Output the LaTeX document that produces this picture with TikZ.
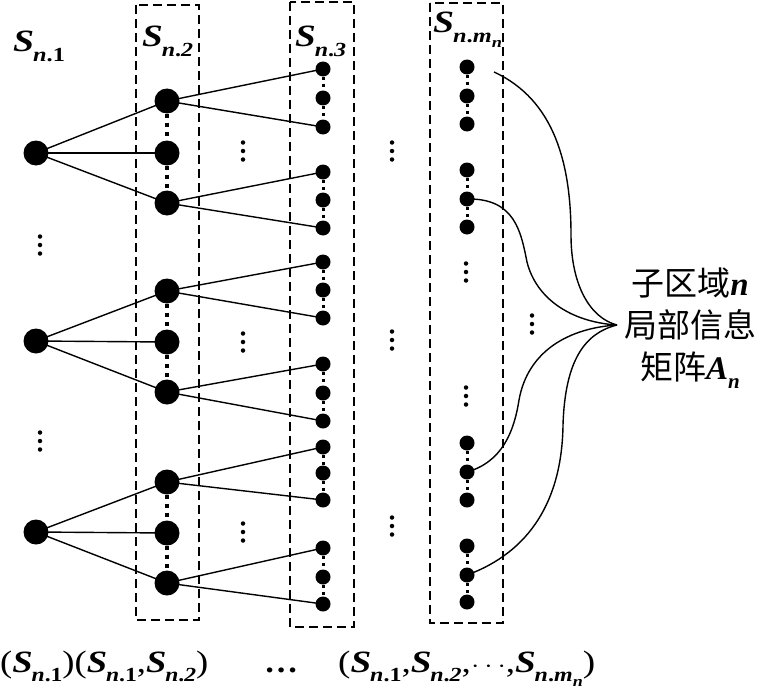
\documentclass[tikz,border=0pt]{standalone}
\usepackage{fontspec}
\setmainfont{Liberation Serif}
\newfontfamily\cjk{Noto Sans CJK SC}
\newcommand\Lat[1]{{\rmfamily\bfseries\itshape #1}}
\newcommand\SB{\textbf{\textit{S}}}
\newcommand\Ssub[1]{\SB\kern-0.03em\raisebox{-0.3em}{\fontsize{20}{20}\selectfont\textbf{\textit{n}}\textbf{.#1}}}
\newcommand\Smn{\Ssub{\textit{m}\raisebox{-0.25em}{\fontsize{15}{15}\selectfont\textbf{\textit{n}}}}}
\begin{document}
\begin{tikzpicture}[x=1pt,y=-1pt,
  big/.style={circle,fill=black,inner sep=0pt,minimum size=25pt},
  small/.style={circle,fill=black,inner sep=0pt,minimum size=15pt},
  edge/.style={line width=1.4pt},
  boxline/.style={line width=1.5pt,dash pattern=on 9pt off 5pt},
  bigdots/.style={line width=4pt,dash pattern=on 4pt off 5pt},
  smalldots/.style={line width=3pt,dash pattern=on 3pt off 4pt},
  vdot/.style={circle,fill=black,inner sep=0pt,minimum size=4.5pt},
  curve/.style={line width=1.4pt},
  lab/.style={font=\fontsize{31}{33}\selectfont,inner sep=0pt,anchor=base west},
  cjkl/.style={font=\fontsize{33}{42}\selectfont\cjk,inner sep=0pt,anchor=base}
]
\useasboundingbox (0,0) rectangle (759,690);
% dashed boxes
\draw[boxline] (136,5) rectangle (199,620);
\draw[boxline] (290,2) rectangle (354,627);
\draw[boxline] (430,3) rectangle (503,623);
% column 1
\node[big] (a1) at (36,153) {};
\node[big] (a2) at (36,341) {};
\node[big] (a3) at (36,532) {};
% column 2
\foreach \n/\y in {1/101,2/153,3/203,4/291,5/342,6/392,7/482,8/533,9/583}
  \node[big] (b\n) at (167,\y) {};
% column 3
\foreach \n/\y in {1/69,2/98,3/127,4/172,5/200,6/228,7/262,8/290,9/318,10/364,11/393,12/421,13/447,14/473,15/500,16/548,17/577,18/604}
  \node[small] (c\n) at (323,\y) {};
% column m_n
\foreach \n/\y in {1/67,2/96,3/124,4/170,5/199,6/227,7/443,8/472,9/500,10/546,11/575,12/602}
  \node[small] (d\n) at (467,\y) {};
% dotted links inside groups
\foreach \u/\v in {1/2,2/3,4/5,5/6,7/8,8/9}
  \draw[bigdots] (b\u.south) -- (b\v.north);
\foreach \u/\v in {1/2,2/3,4/5,5/6,7/8,8/9,10/11,11/12,13/14,14/15,16/17,17/18}
  \draw[smalldots] (c\u.south) -- (c\v.north);
\foreach \u/\v in {1/2,2/3,4/5,5/6,7/8,8/9,10/11,11/12}
  \draw[smalldots] (d\u.south) -- (d\v.north);
% edges col1 -> col2
\foreach \a/\b in {1/1,1/2,1/3,2/4,2/5,2/6,3/7,3/8,3/9}
  \draw[edge] (a\a.center) -- (b\b.center);
% edges col2 -> col3
\foreach \b/\c in {1/1,1/3,3/4,3/6,4/7,4/9,6/10,6/12,7/13,7/15,9/16,9/18}
  \draw[edge] (b\b.center) -- (c\c.center);
% vertical ellipses
\foreach \x/\y [count=\i] in {40/245,40/441,243/151,243/342,243/532,392/151,392/340,392/526,466/272,466/396,532/324}
{
  \node[vdot] (e\i a) at (\x,\y-8.5) {};
  \node[vdot] (e\i b) at (\x,\y) {};
  \node[vdot] (e\i c) at (\x,\y+8.5) {};
}
% brace curves
\coordinate (T) at (617,325);
\coordinate (s1) at (494,72);
\draw[curve] (s1) .. controls (555,100) and (571,165) .. (571,235)
  .. controls (571,285) and (590,318) .. (T);
\draw[curve] (d5.center) .. controls (515,198) and (521,232) .. (527,262)
  .. controls (536,298) and (570,322) .. (T);
\draw[curve] (d8.center) .. controls (502,462) and (514,432) .. (519,400)
  .. controls (528,350) and (570,328) .. (T);
\draw[curve] (d11.center) .. controls (530,552) and (562,500) .. (563,425)
  .. controls (565,360) and (585,333) .. (T);
% labels
\node[lab] (l1) at (13,52) {\scalebox{1.22}[1]{\Ssub{\textup{1}}}};
\node[lab] (l2) at (142,47) {\scalebox{1.2}[1]{\Ssub{\textit{2}}}};
\node[lab] (l3) at (295,47) {\scalebox{1.2}[1]{\Ssub{\textit{3}}}};
\node[lab] (l4) at (433,33) {\scalebox{1.22}[1]{\Smn}};
\node[cjkl] (t1) at (690,295) {子区域\Lat{n}};
\node[cjkl] (t2) at (690,337) {局部信息};
\node[cjkl] (t3) at (690,379) {矩阵\Lat{A}\raisebox{-0.3em}{\fontsize{21}{21}\selectfont\Lat{n}}};
\node[lab] (b1l) at (0,672) {\scalebox{1.18}[1]{(\Ssub{\textup{1}})(\Ssub{\textup{1}},\Ssub{\textit{2}})}};
\node[lab] (b2l) at (264,672) {\scalebox{1.1}[1]{\textbf{…}}};
\node[lab] (b3l) at (338,672) {\scalebox{1.2}[1]{(\Ssub{\textup{1}},\Ssub{\textit{2}},$\cdots$,\Smn)}};
\end{tikzpicture}
\end{document}
